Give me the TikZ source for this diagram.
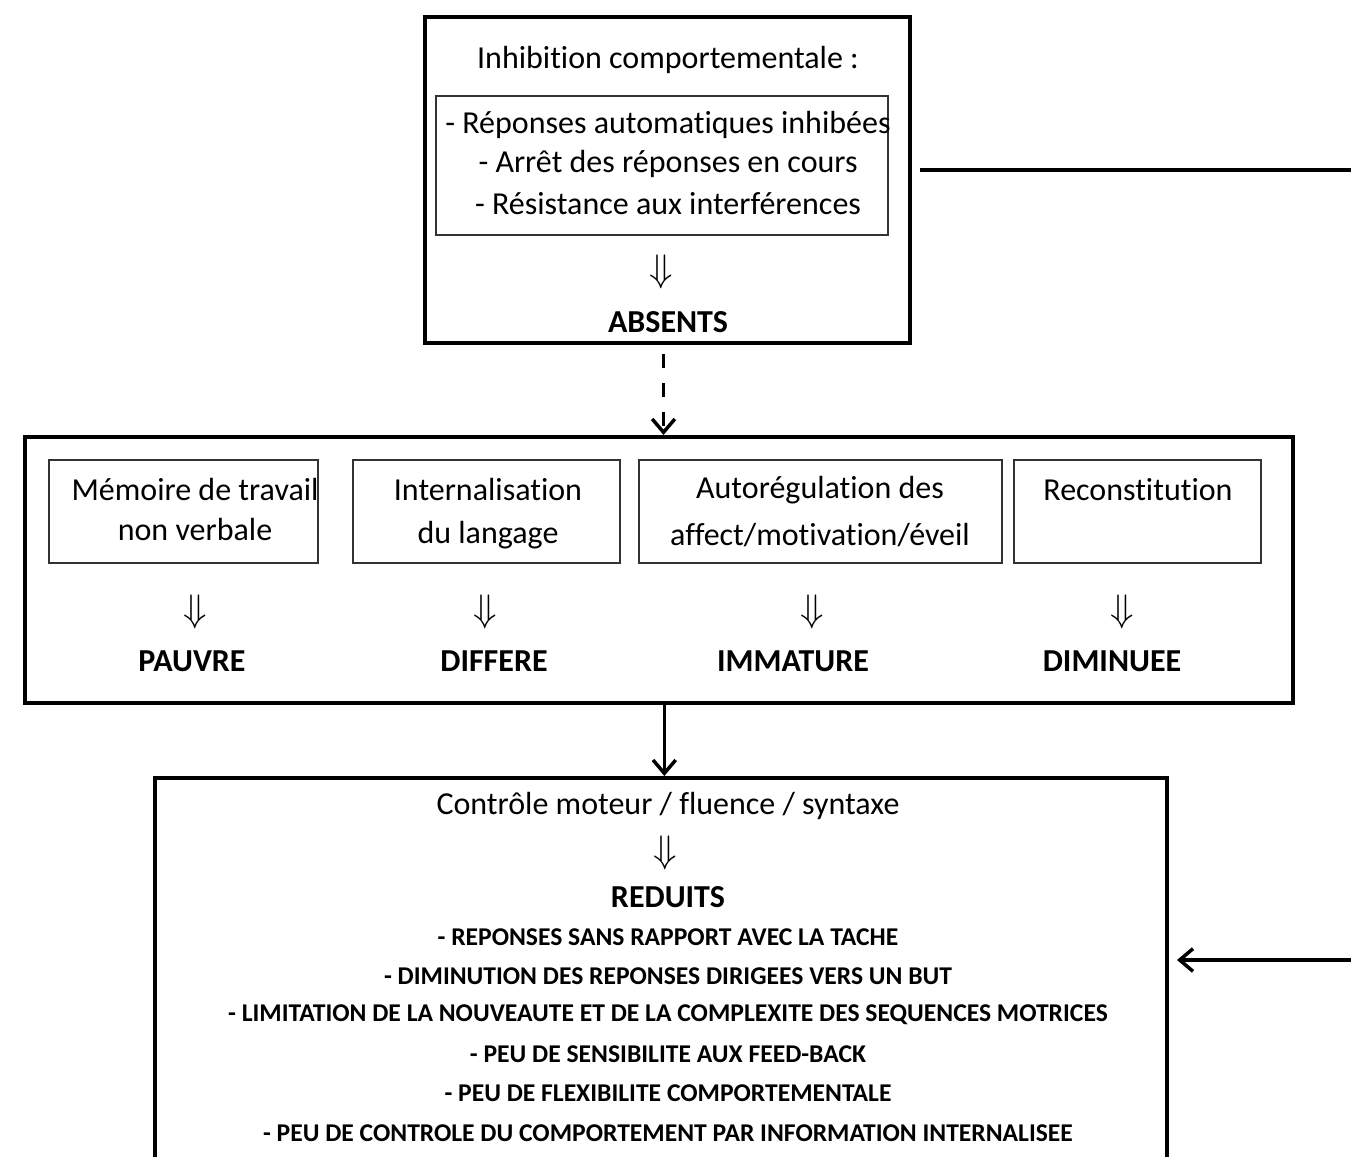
\documentclass[tikz,border=0pt]{standalone}
\usepackage{fontspec}
\setmainfont[Ligatures=NoCommon]{Carlito}
\usetikzlibrary{arrows.meta}

\begin{document}
\begin{tikzpicture}
[x=0.375pt,y=-0.375pt,
  boxDecorate/.style={draw,line width=1.5pt,inner sep=0pt},%
  innerDecorate/.style={draw=black!80,line width=0.4pt,inner sep=0pt},%
  textDecorate/.style={font=\fontsize{12}{14.6}\selectfont,inner sep=0pt},%
  boldDecorate/.style={font=\fontsize{12}{14.6}\selectfont\bfseries,inner sep=0pt},%
  listDecorate/.style={font=\fontsize{9.6}{11}\selectfont\bfseries,inner sep=0pt},%
  downDecorate/.style={inner sep=0pt,font=\fontsize{15}{17}\selectfont},%
  lineDecorate/.style={line width=1.2pt},%
  arrowDecorate/.style={line width=1.2pt,-{Straight Barb[length=5pt,width=8.5pt,line width=1.3pt]}}]
\clip (0,0) rectangle (1351,1157);
%% boxes
\foreach \nodename/\x/\y/\w/\h in {topBox/667.5/180/485/326, midBox/659/570/1268/266, lowBox/661/989/1012/422}
{
  \node (\nodename) at (\x,\y) [boxDecorate,minimum width=\w*0.375pt,minimum height=\h*0.375pt] {};
}
\foreach \nodename/\x/\y/\w/\h in {inhibBox/662/165.5/452/139, memBox/183.5/511.5/269/103, langBox/486.5/511.5/267/103, autoBox/820.5/511.5/363/103, recBox/1137.5/511.5/247/103}
{
  \node (\nodename) at (\x,\y) [innerDecorate,minimum width=\w*0.375pt,minimum height=\h*0.375pt] {};
}
%% texts
\node (inhib) at (668,60) [textDecorate] {Inhibition comportementale :};
\foreach \nodename/\y/\txt in {rep1/125/- Réponses automatiques inhibées, rep2/164/- Arrêt des réponses en cours, rep3/204/- Résistance aux interférences}
{
  \node (\nodename) at (668,\y) [textDecorate] {\txt};
}
\node (down0) at (661,272) [downDecorate] {$\Downarrow$};
\node (absents) at (668,322) [boldDecorate] {ABSENTS};
\foreach \nodename/\x/\y/\txt in {mem1/195/490/Mémoire de travail, mem2/195/530/non verbale, lang1/488/490/Internalisation, lang2/488/535/du langage, auto1/820/490/Autorégulation des, auto2/820/535/{affect/motivation/éveil}, rec1/1138/490/Reconstitution}
{
  \node (\nodename) at (\x,\y) [textDecorate] {\txt};
}
\foreach \nodename/\x/\dx/\txt in {1/192/195/PAUVRE, 2/494/485/DIFFERE, 3/793/812/IMMATURE, 4/1112/1122/DIMINUEE}
{
  \node (down\nodename) at (\dx,612) [downDecorate] {$\Downarrow$};
  \node (res\nodename) at (\x,661) [boldDecorate] {\txt};
}
\node (ctrl) at (668,806) [textDecorate] {Contrôle moteur / fluence / syntaxe};
\node (down5) at (665,853) [downDecorate,font=\fontsize{14}{16}\selectfont] {$\Downarrow$};
\node (reduits) at (668,897) [boldDecorate] {REDUITS};
\foreach \nodename/\y/\txt in {l1/937/- REPONSES SANS RAPPORT AVEC LA TACHE, l2/976/- DIMINUTION DES REPONSES DIRIGEES VERS UN BUT, l3/1015/- LIMITATION DE LA NOUVEAUTE ET DE LA COMPLEXITE DES SEQUENCES MOTRICES, l4/1054/- PEU DE SENSIBILITE AUX FEED-BACK, l5/1093/- PEU DE FLEXIBILITE COMPORTEMENTALE, l6/1133/- PEU DE CONTROLE DU COMPORTEMENT PAR INFORMATION INTERNALISEE}
{
  \node (\nodename) at (668,\y) [listDecorate] {\txt};
}
%% connectors
\coordinate (rightTop) at (1351,170);
\coordinate (rightLow) at (1351,960);
\draw[lineDecorate,shorten <=3pt] (topBox.east |- rightTop) -- (rightTop);
\draw[arrowDecorate,dashed,dash pattern=on 5.3pt off 5.6pt,shorten <=3.4pt] ([xshift=-1.5pt]topBox.south) -- ([xshift=-1.5pt]topBox.south |- midBox.north);
\draw[arrowDecorate] ([xshift=2pt]midBox.south) -- ([xshift=2pt]midBox.south |- lowBox.north);
\draw[arrowDecorate,shorten >=3pt] (rightLow) -- (lowBox.east |- rightLow);
\end{tikzpicture}
\end{document}
